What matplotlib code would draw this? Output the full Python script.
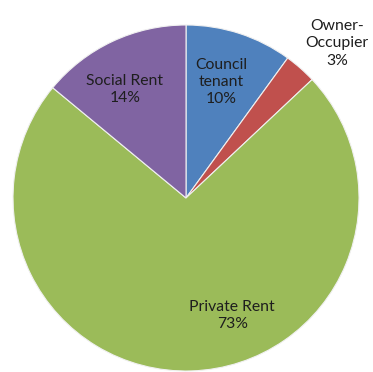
import numpy as np
import matplotlib
matplotlib.use("Agg")
import matplotlib.pyplot as plt

categories = ["Council\ntenant", "Owner-\nOccupier", "Private Rent", "Social Rent"]
shares = [10, 3, 73, 14]
colors = ["#4F81BD", "#C0504D", "#9BBB59", "#8064A2"]
# label placement as (radius fraction, angle in degrees)
label_r = [0.70, 1.25, 0.73, 0.72]
label_ang = [73.2, 45.7, -68.5, 119.5]

fig = plt.figure(figsize=(3.73, 3.72), dpi=100)
ax = fig.add_axes([0.0349, 0.0027, 0.9276, 0.9301])
wedges, _ = ax.pie(shares, colors=colors, startangle=90, counterclock=False,
                   radius=1.0,
                   wedgeprops=dict(edgecolor="#f0f0f0", linewidth=0.8))
ax.set_xlim(-1, 1)
ax.set_ylim(-1, 1)
ax.set_aspect("auto")
ax.axis("off")

for name, val, r, a in zip(categories, shares, label_r, label_ang):
    t = np.deg2rad(a)
    ax.text(r * np.cos(t), r * np.sin(t), f"{name}\n{val}%",
            ha="center", va="center", fontsize=11.3, family="Lato",
            color="#1e1e1e", linespacing=1.3)

fig.savefig("out.png", dpi=100)
